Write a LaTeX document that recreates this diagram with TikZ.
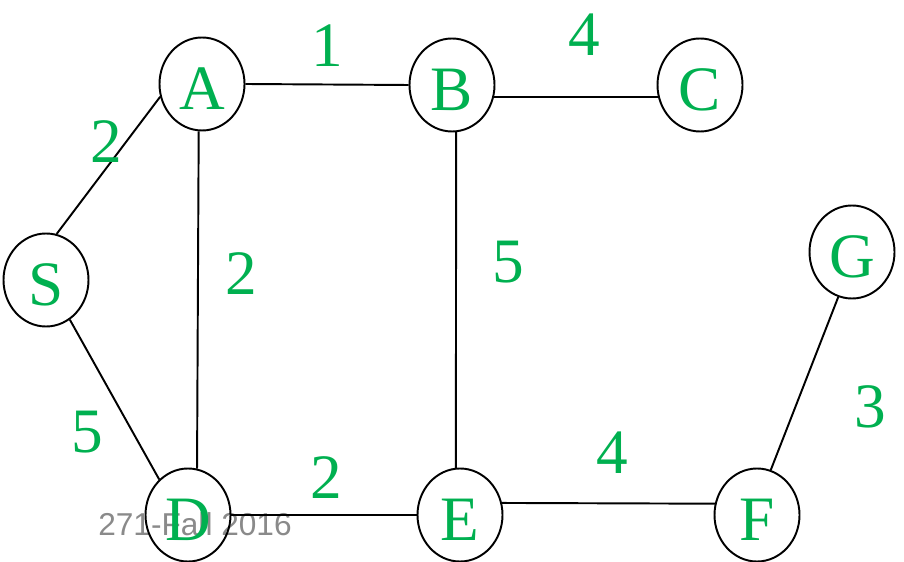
\documentclass[tikz,border=0pt]{standalone}
\usepackage{fontspec}
\setmainfont{Liberation Serif}
\newfontfamily\footfont{Liberation Sans}
\usepackage{xcolor}
\usepackage{tikz}
\usetikzlibrary{shapes.geometric}
\definecolor{wgreen}{HTML}{00B050}
\definecolor{footgray}{HTML}{8A8A8A}

\tikzset{
    vertex/.style={ellipse, draw=black, line width=1.1pt, minimum width=1.7cm,
          minimum height=1.86cm, inner sep=0pt, text=wgreen,
          font=\fontsize{36}{40}\selectfont, text height=29pt, text depth=0pt},
    weight/.style={text=wgreen, inner sep=0pt, font=\fontsize{36}{40}\selectfont},
    link/.style={line width=1.1pt}
}

\begin{document}
\begin{tikzpicture}
    \useasboundingbox (0,0) rectangle (18.08,-11.24);
    % footer
    \node[anchor=base, text=footgray, inner sep=0pt, font=\footfont\fontsize{18}{20}\selectfont]
        (foot) at (3.9,-10.7) {271-Fall 2016};

    % vertices
    \node[vertex] (S) at (0.92,-5.60) {S};
    \node[vertex] (A) at (4.04,-1.68) {A};
    \node[vertex] (B) at (9.04,-1.70) {B};
    \node[vertex] (C) at (14.00,-1.70) {C};
    \node[vertex] (G) at (17.04,-5.04) {G};
    \node[vertex] (D) at (3.76,-10.30) {D};
    \node[vertex] (E) at (9.20,-10.30) {E};
    \node[vertex] (F) at (15.14,-10.30) {F};

    % edges
    \draw[link] (S.77) -- (A.197);
    \draw[link] (A.east) -- (B.west);
    \draw[link] (B.-16) -- (C.196);
    \draw[link] (A.266) -- (D.79);
    \draw[link] (S.-59) -- (D.129);
    \draw[link] (B.275) -- (E.95);
    \draw[link] (D.east) -- (E.west);
    \draw[link] (E.16) -- (F.165);
    \draw[link] (F.73) -- (G.253);

    % weights
    \node[weight] (wAB) at (6.54,-0.92) {1};
    \node[weight] (wBC) at (11.68,-0.70) {4};
    \node[weight] (wSA) at (2.12,-2.84) {2};
    \node[weight] (wAD) at (4.82,-5.48) {2};
    \node[weight] (wBE) at (10.16,-5.24) {5};
    \node[weight] (wSD) at (1.74,-8.64) {5};
    \node[weight] (wDE) at (6.52,-9.56) {2};
    \node[weight] (wEF) at (12.24,-9.06) {4};
    \node[weight] (wFG) at (17.40,-8.14) {3};
\end{tikzpicture}
\end{document}
